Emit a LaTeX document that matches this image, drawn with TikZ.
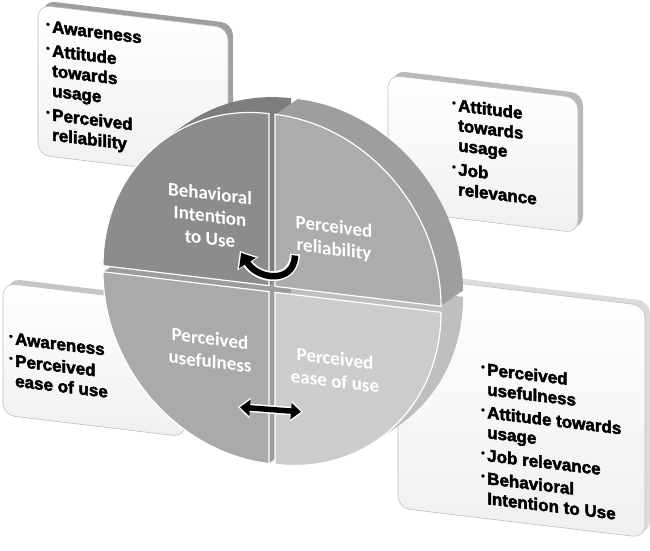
\documentclass[tikz,border=0pt]{standalone}
\usepackage{fontspec}
\setmainfont{Liberation Sans}
\newfontfamily\boxf{Liberation Sans}[UprightFont=*-Bold, FakeBold=2.5]
\newfontfamily\pief{Carlito}
\usetikzlibrary{arrows.meta}
\definecolor{faceTL}{gray}{0.55}
\definecolor{rimTL}{gray}{0.49}
\definecolor{faceTR}{gray}{0.675}
\definecolor{rimTR}{gray}{0.62}
\definecolor{faceBL}{gray}{0.665}
\definecolor{rimBL}{gray}{0.61}
\definecolor{faceBR}{gray}{0.80}
\definecolor{rimBR}{gray}{0.75}
\newcommand\bul{\makebox[6pt][l]{\raisebox{0.5ex}{\fontsize{10}{10}\selectfont\textbullet}}}
\newcommand\ind{\hspace*{6pt}}
\newcommand\callbox[5]{%
  \begin{scope}[shift={(#1,#2)}, yslant=-0.12]
    \fill[#5, rounded corners=12pt] (5,5) rectangle ++(#3,-#4);
    \draw[draw=gray!50, line width=0.6pt, top color=white, bottom color=gray!12, rounded corners=12pt] (0,0) rectangle ++(#3,-#4);
  \end{scope}}
\begin{document}
\begin{tikzpicture}[x=1pt,y=1pt,
  boxtext/.style={font=\boxf\fontsize{17}{20}\selectfont, align=left, inner sep=0pt, anchor=north west, yslant=-0.12, text=black},
  pietext/.style={font=\pief\bfseries\fontsize{19}{22.5}\selectfont, align=center, inner sep=0pt, text=white, yslant=-0.12},
  whitearrow/.style={white, line width=10pt},
  blackarrow/.style={black, line width=6.5pt},
]
\useasboundingbox (0,0) rectangle (650,550);

% callout boxes
\callbox{38}{545}{190}{150}{gray!75}
\callbox{388}{475}{190}{135}{gray!55}
\callbox{3}{267}{182}{132}{gray!45}
\callbox{398}{274}{247}{232}{gray!28}

% pie
\begin{scope}[shift={(272,261)}, yslant=-0.12]
  % sides (extrusion)
  \foreach \i in {20,19,...,1}{
    \fill[rimBR, shift={(\i*1.1,\i*0.9)}] (3,-3) -- (3,-175) arc[start angle=270,end angle=360,x radius=166,y radius=172] -- cycle;
  }
  \foreach \i in {20,19,...,1}{
    \fill[rimBL, shift={(\i*1.1,\i*0.9)}] (-3,-3) -- (-169,-3) arc[start angle=180,end angle=270,x radius=166,y radius=172] -- cycle;
  }
  \foreach \i in {20,19,...,1}{
    \fill[rimTL, shift={(\i*1.1,\i*0.9)}] (-3,3) -- (-169,3) arc[start angle=180,end angle=90,x radius=166,y radius=172] -- cycle;
  }
  \foreach \i in {20,19,...,1}{
    \fill[rimTR, shift={(\i*1.1,\i*0.9)}] (3,3) -- (169,3) arc[start angle=0,end angle=90,x radius=166,y radius=172] -- cycle;
  }
  % front faces
  \filldraw[fill=faceTL, draw=white, line width=1.2pt] (-3,3) -- (-169,3) arc[start angle=180,end angle=90,x radius=166,y radius=172] -- cycle;
  \filldraw[fill=faceTR, draw=white, line width=1.2pt] (3,3) -- (169,3) arc[start angle=0,end angle=90,x radius=166,y radius=172] -- cycle;
  \filldraw[fill=faceBL, draw=white, line width=1.2pt] (-3,-3) -- (-169,-3) arc[start angle=180,end angle=270,x radius=166,y radius=172] -- cycle;
  \filldraw[fill=faceBR, draw=white, line width=1.2pt] (3,-3) -- (3,-175) arc[start angle=270,end angle=360,x radius=166,y radius=172] -- cycle;
\end{scope}

% pie labels
\node[pietext] (bi) at (210,334) {Behavioral\\Intention\\to Use};
\node[pietext] (pr) at (334,311) {Perceived\\reliability};
\node[pietext] (pu) at (210,200) {Perceived\\usefulness};
\node[pietext] (pe) at (335,180) {Perceived\\ease of use};

% arrows
\coordinate (uR) at (295,296);
\coordinate (uL) at (240,299);
\draw[whitearrow, -{Triangle[length=15pt,width=24pt]}] (uR) .. controls (294,266) and (258,270) .. (uL);
\draw[blackarrow, shorten >=2.2pt, -{Triangle[length=12pt,width=19pt]}] ([yshift=-1.5pt]uR) .. controls (294,266) and (258,270) .. (uL);

\coordinate (dL) at (238,143);
\coordinate (dR) at (303,138);
\draw[white, line width=8.5pt, {Triangle[length=12pt,width=20pt]}-{Triangle[length=12pt,width=20pt]}] (dL) -- (dR);
\draw[black, line width=5.5pt, shorten <=2pt, shorten >=2pt, {Triangle[length=10pt,width=16pt]}-{Triangle[length=10pt,width=16pt]}] (dL) -- (dR);

% box texts
\node[boxtext] (t1) at (46,530) {\bul Awareness\\[4pt]\bul Attitude\\\ind towards\\\ind usage\\[4pt]\bul Perceived\\\ind reliability};
\node[boxtext] (t2) at (452,452) {\bul Attitude\\\ind towards\\\ind usage\\[4pt]\bul Job\\\ind relevance};
\node[boxtext] (t3) at (9,218) {\bul Awareness\\[2pt]\bul Perceived\\\ind ease of use};
\node[boxtext] (t4) at (481,188) {\bul Perceived\\\ind usefulness\\[3pt]\bul Attitude towards\\\ind usage\\[3pt]\bul Job relevance\\[3pt]\bul Behavioral\\\ind Intention to Use};
\end{tikzpicture}
\end{document}
